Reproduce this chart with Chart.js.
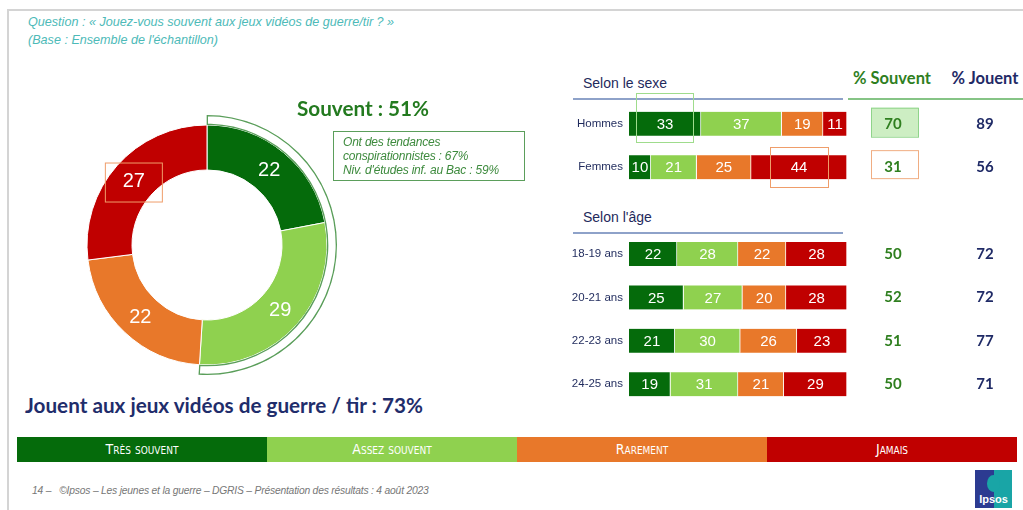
<!DOCTYPE html>
<html lang="fr">
<head>
<meta charset="UTF-8">
<title>Jeux vidéos de guerre / tir</title>
<style>
  body { margin: 0; width: 1023px; height: 510px; position: relative; background: #fff; overflow: hidden;
         font-family: "Liberation Sans", Arial, sans-serif; }
  .abs { position: absolute; white-space: nowrap; }
  #cadre { left: 7px; top: 9px; width: 1016px; height: 501px; border-left: 2px solid #d4d4d4; border-top: 2px solid #d4d4d4; }
  .question { left: 28px; font-size: 12.6px; font-style: italic; color: #4dbab8; line-height: 14px; }
  .titre { font-family: Lato, "Open Sans", sans-serif; font-weight: bold; }
  .section { left: 583px; font-size: 14px; color: #1f2a5c; line-height: 16px; }
  .trait { height: 2px; }
  #note { left: 333px; top: 131px; border: 1px solid #5b9e5b; color: #3d8a3d;
          font-size: 12px; font-style: italic; line-height: 14px; padding: 3px 0 0 9px; box-sizing: border-box; width: 192px; height: 50px; letter-spacing: -0.2px; }
  #legende { left: 17px; top: 437px; width: 1000px; height: 25px; display: flex; }
  #legende div { flex: 1; color: #fff; font-variant: small-caps; font-size: 14px; text-align: center; line-height: 25px;
                 font-family: "Liberation Sans Narrow", "DejaVu Sans Condensed", "Liberation Sans", sans-serif; }
  #pied { left: 32px; top: 485px; font-size: 10.3px; font-style: italic; color: #777; letter-spacing: -0.2px; }
  #logo { left: 975px; top: 470px; width: 37px; height: 38px; background: linear-gradient(90deg, #2c3b91 52%, #19a5a6 52%);
          color: #fff; font-weight: bold; font-size: 11px; text-align: center; overflow: hidden; }
  #logo span { position: absolute; left: 0; right: 0; bottom: 3px; }
  #logo i { position: absolute; left: 12px; top: 5px; width: 13px; height: 17px; border-radius: 50%; background: #19a5a6; }
</style>
</head>
<body>
  <div id="cadre" class="abs"></div>
  <div class="abs question" style="top:15px">Question : « Jouez-vous souvent aux jeux vidéos de guerre/tir ? »</div>
  <div class="abs question" style="top:33px">(Base : Ensemble de l'échantillon)</div>

  <canvas id="anneau" class="abs" width="280" height="280" style="left:67px;top:105px"></canvas>
  <div id="souvent" class="abs titre" style="left:297px;top:95px;font-size:20.7px;color:#237a1f;line-height:26px"></div>
  <div id="note" class="abs">Ont des tendances<br>conspirationnistes : 67%<br>Niv. d'études inf. au Bac : 59%</div>
  <div id="jouent" class="abs titre" style="left:25px;top:392px;font-size:20.7px;color:#1f2d6b;line-height:26px"></div>

  <div class="abs section" style="top:75px">Selon le sexe</div>
  <div class="abs trait" style="left:573px;top:98px;width:270px;background:#8ea2c9"></div>
  <div class="abs trait" style="left:848px;top:98px;width:175px;background:#86c486"></div>
  <div class="abs titre" style="left:842px;top:68px;width:100px;text-align:center;font-size:16.5px;color:#2f7f1f;line-height:20px">% Souvent</div>
  <div class="abs titre" style="left:935px;top:68px;width:100px;text-align:center;font-size:16.5px;color:#1f2a66;line-height:20px">% Jouent</div>
  <div class="abs section" style="top:209px">Selon l'âge</div>
  <div class="abs trait" style="left:573px;top:232px;width:270px;background:#8ea2c9"></div>

  <canvas id="barres" class="abs" width="463" height="360" style="left:560px;top:60px"></canvas>

  <div id="legende" class="abs"></div>
  <div id="pied" class="abs">14 –&nbsp;&nbsp;&nbsp;©Ipsos – Les jeunes et la guerre – DGRIS – Présentation des résultats : 4 août 2023</div>
  <div id="logo" class="abs"><i></i><span>Ipsos</span></div>

  <script src="https://cdn.jsdelivr.net/npm/chart.js"></script>
  <script>
    // réponses
    const categories = ['Très souvent', 'Assez souvent', 'Rarement', 'Jamais'];
    const couleurs = ['#056b0b', '#8fd14f', '#e8782a', '#c00000'];

    // ensemble de l'échantillon
    const ensemble = [22, 29, 22, 27];

    // selon le sexe / l'âge (ligne vide = séparation)
    const groupes = ['Hommes', 'Femmes', '', '18-19 ans', '20-21 ans', '22-23 ans', '24-25 ans'];
    const tresSouvent = [33, 10, null, 22, 25, 21, 19];
    const assezSouvent = [37, 21, null, 28, 27, 30, 31];
    const rarement = [19, 25, null, 22, 20, 26, 21];
    const jamais = [11, 44, null, 28, 28, 23, 29];
    const pctSouvent = [70, 31, null, 50, 52, 51, 50];
    const pctJouent = [89, 56, null, 72, 72, 77, 71];

    const souvent = ensemble[0] + ensemble[1];
    const jouent = 100 - ensemble[3];
    document.getElementById('souvent').textContent = 'Souvent : ' + souvent + '%';
    document.getElementById('jouent').textContent = 'Jouent aux jeux vidéos de guerre / tir : ' + jouent + '%';

    const legende = document.getElementById('legende');
    categories.forEach((c, i) => {
      const d = document.createElement('div');
      d.textContent = c;
      d.style.background = couleurs[i];
      legende.appendChild(d);
    });

    const police = '"Liberation Sans", Arial, sans-serif';

    const etiquettesAnneau = {
      id: 'etiquettesAnneau',
      afterDatasetsDraw(chart) {
        const ctx = chart.ctx;
        const meta = chart.getDatasetMeta(1);
        ctx.save();
        ctx.font = '20px ' + police;
        ctx.fillStyle = '#fff';
        ctx.textAlign = 'center';
        ctx.textBaseline = 'middle';
        meta.data.forEach((arc, i) => {
          const p = arc.tooltipPosition();
          ctx.fillText(ensemble[i], p.x, p.y + 1);
          if (i === 3) {
            ctx.strokeStyle = '#ef9d6a';
            ctx.lineWidth = 1;
            ctx.strokeRect(p.x - 28.5, p.y - 17.5, 57, 39);
          }
        });
        ctx.restore();
      }
    };

    new Chart(document.getElementById('anneau'), {
      type: 'doughnut',
      data: {
        labels: categories,
        datasets: [{
          data: [souvent, 100 - souvent],
          backgroundColor: ['#fff', 'rgba(0,0,0,0)'],
          borderColor: ['#5a9e5a', 'rgba(0,0,0,0)'],
          borderWidth: [1, 0],
          borderAlign: 'inner',
          weight: 10
        }, {
          data: ensemble,
          backgroundColor: couleurs,
          borderColor: '#fff',
          borderWidth: 1,
          weight: 45
        }]
      },
      options: {
        responsive: false,
        animation: false,
        events: [],
        radius: 130,
        cutout: '57.7%',
        plugins: { legend: { display: false }, tooltip: { enabled: false } }
      },
      plugins: [etiquettesAnneau]
    });

    const etiquettesBarres = {
      id: 'etiquettesBarres',
      beforeDatasetsDraw(chart) {
        const ctx = chart.ctx;
        const y = chart.scales.y;
        ctx.save();
        ctx.lineWidth = 1;
        // encadrés colonne % Souvent
        let py = y.getPixelForValue(0);
        ctx.fillStyle = '#cdeec3';
        ctx.strokeStyle = '#8fd48a';
        ctx.fillRect(311, py - 16, 47, 29);
        ctx.strokeRect(311.5, py - 15.5, 47, 29);
        py = y.getPixelForValue(1);
        ctx.strokeStyle = '#f0ad82';
        ctx.strokeRect(311.5, py - 16.5, 47, 28);
        ctx.restore();
      },
      afterDatasetsDraw(chart) {
        const ctx = chart.ctx;
        const y = chart.scales.y;
        ctx.save();
        ctx.textAlign = 'center';
        ctx.textBaseline = 'middle';
        ctx.font = '15px ' + police;
        ctx.fillStyle = '#fff';
        chart.data.datasets.forEach((ds, di) => {
          chart.getDatasetMeta(di).data.forEach((bar, i) => {
            if (ds.data[i] == null) return;
            const p = bar.getCenterPoint();
            ctx.fillText(ds.data[i], p.x, p.y + 1);
          });
        });
        // encadrés sur les barres
        ctx.lineWidth = 1;
        let b = chart.getDatasetMeta(0).data[0].getCenterPoint();
        ctx.strokeStyle = '#9fdc8c';
        ctx.strokeRect(Math.round(b.x - 28.5) + 0.5, Math.round(b.y - 31) + 0.5, 57, 49);
        b = chart.getDatasetMeta(3).data[1].getCenterPoint();
        ctx.strokeStyle = '#ef9d6a';
        ctx.strokeRect(Math.round(b.x - 29) + 0.5, Math.round(b.y - 20) + 0.5, 58, 40);
        // colonnes
        ctx.font = 'bold 15px Lato, "Open Sans", sans-serif';
        groupes.forEach((g, i) => {
          if (pctSouvent[i] == null) return;
          const py = y.getPixelForValue(i);
          ctx.fillStyle = '#2f7f1f';
          ctx.fillText(pctSouvent[i], 333, py);
          ctx.fillStyle = '#1f2a66';
          ctx.fillText(pctJouent[i], 425, py);
        });
        ctx.restore();
      }
    };

    new Chart(document.getElementById('barres'), {
      type: 'bar',
      data: {
        labels: groupes,
        datasets: [tresSouvent, assezSouvent, rarement, jamais].map((d, i) => ({
          label: categories[i],
          data: d,
          backgroundColor: couleurs[i],
          borderColor: '#fff',
          borderWidth: { right: 1 },
          barThickness: 24
        }))
      },
      options: {
        indexAxis: 'y',
        responsive: false,
        animation: false,
        events: [],
        layout: { padding: { top: 42, right: 176, bottom: 14, left: 0 } },
        plugins: { legend: { display: false }, tooltip: { enabled: false } },
        scales: {
          x: { stacked: true, min: 0, max: 100, display: false },
          y: {
            stacked: true,
            grid: { display: false, drawTicks: false },
            border: { display: false },
            ticks: { color: '#1f2a5c', padding: 6, font: { size: 11.5, family: police } },
            afterFit(s) { s.width = 69; }
          }
        }
      },
      plugins: [etiquettesBarres]
    });
  </script>
</body>
</html>
